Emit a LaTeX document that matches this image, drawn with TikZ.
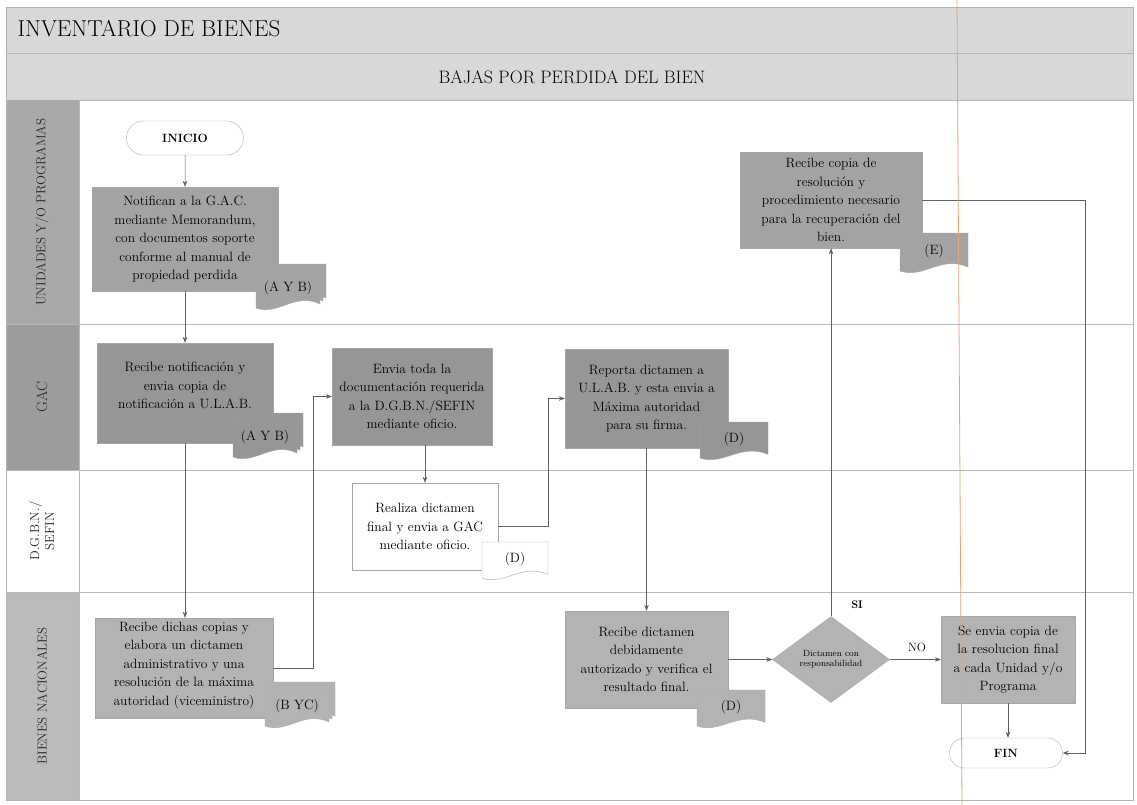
\documentclass[tikz,border=0pt]{standalone}
\usetikzlibrary{shapes.geometric,shapes.misc,arrows.meta}

\definecolor{bandgray}{HTML}{D8D8D8}
\definecolor{boxdark}{HTML}{969696}
\definecolor{boxmid}{HTML}{A3A3A3}
\definecolor{boxlight}{HTML}{B3B3B3}
\definecolor{laneuni}{HTML}{A9A9A9}
\definecolor{lanegac}{HTML}{9C9C9C}
\definecolor{lanebie}{HTML}{BBBBBB}
\definecolor{scanline}{HTML}{E6A477}

\newcommand{\boxfont}{\fontsize{13.5}{18.5}\selectfont}
\newcommand{\liftup}[1]{\\[#1]\mbox{}}

% document symbol: name, x, y, width, height, fill, text
\newcommand{\docbody}[5]{%
  \begin{scope}[shift={(#1,#2)}]
    \filldraw[fill=#5, draw=gray!70] (0,0) -- (#3,0) -- (#3,{0.85*#4})
      .. controls ({0.6*#3},{0.55*#4}) and ({0.35*#3},{1.15*#4}) .. (0,{0.95*#4}) -- cycle;
  \end{scope}}
\newcommand{\docsym}[7]{%
  \docbody{#2}{#3}{#4}{#5}{#6}
  \node[doctext] (#1) at ({#2+0.5*#4},{#3+0.45*#5}) {#7};}
\newcommand{\multidoc}[7]{%
  \docbody{#2+6}{#3-6}{#4}{#5}{#6}
  \docbody{#2+3}{#3-3}{#4}{#5}{#6}
  \docsym{#1}{#2}{#3}{#4}{#5}{#6}{#7}}

\tikzset{
  proc/.style={rectangle, draw=gray!70, align=center, inner sep=1pt, font=\boxfont, text=black},
  term/.style={rounded rectangle, draw=gray!60, fill=white, inner sep=0pt,
    font=\fontsize{12}{14}\selectfont\bfseries, text=black},
  decbox/.style={diamond, draw=gray!70, fill=boxlight, inner sep=0pt, align=center,
    font=\fontsize{9}{10.5}\selectfont, text=black},
  doctext/.style={font=\boxfont, inner sep=0pt, text=black},
  lanelabel/.style={rotate=90, align=center, text=black!85, font=\fontsize{13}{15}\selectfont},
  flow/.style={draw=gray!75!black, line width=0.5pt, ->},
  laneline/.style={draw=gray!55, line width=0.6pt},
  >={Stealth[length=6pt,width=4.5pt]}
}

\begin{document}
\begin{tikzpicture}[x=1pt, y=-1pt]
  \useasboundingbox (0,0) rectangle (1137,805);
  \fill[white] (0,0) rectangle (1137,805);

  % header bands
  \fill[bandgray] (6,7) rectangle (1133,100);
  \draw[laneline] (6,53) -- (1133,53);
  \draw[laneline] (6,100) -- (1133,100);
  \node[anchor=base west, font=\fontsize{23}{26}\selectfont, text=black] (titulo) at (14,37) {INVENTARIO DE BIENES};
  \node[font=\fontsize{18}{20}\selectfont, text=black] (subtitulo) at (572,77) {BAJAS POR PERDIDA DEL BIEN};

  % lane label column
  \fill[laneuni] (6,100) rectangle (79,324);
  \fill[lanegac] (6,324) rectangle (79,470);
  \fill[lanebie] (6,592) rectangle (79,800);
  \draw[laneline] (79,100) -- (79,800);
  \draw[laneline] (6,324) -- (1133,324);
  \draw[laneline] (6,470) -- (1133,470);
  \draw[laneline] (6,592) -- (1133,592);
  \draw[gray!60, line width=0.8pt] (6,7) rectangle (1133,800);

  \node[lanelabel] (unidades) at (42,212) {UNIDADES Y/O PROGRAMAS};
  \node[lanelabel, font=\fontsize{15}{17}\selectfont] (gac) at (42,397) {GAC};
  \node[lanelabel] (dgbn) at (42,531) {D.G.B.N./\\SEFIN};
  \node[lanelabel] (bienes) at (42,696) {BIENES NACIONALES};

  % steps
  \node[term, minimum width=117pt, minimum height=34pt] (inicio) at (185,138) {INICIO};
  \node[proc, fill=boxmid, minimum width=186pt, minimum height=104pt] (notif) at (185,239)
    {Notifican a la G.A.C.\\mediante Memorandum,\\con documentos soporte\\conforme al manual de\\propiedad perdida};
  \node[proc, fill=boxdark, minimum width=176pt, minimum height=100pt] (recnot) at (185,393)
    {Recibe notificación y\\envia copia de\\notificación a U.L.A.B.\liftup{-3pt}};
  \node[proc, fill=boxlight, minimum width=178pt, minimum height=100pt] (dichas) at (184,668)
    {Recibe dichas copias y\\elabora un dictamen\\administrativo y una\\resolución de la máxima\\autoridad (viceministro)\liftup{-10pt}};
  \node[proc, fill=boxdark, minimum width=160pt, minimum height=97pt] (envia) at (412,396.5)
    {Envia toda la\\documentación requerida\\a la D.G.B.N./SEFIN\\mediante oficio.};
  \node[proc, fill=white, minimum width=146pt, minimum height=87pt] (realiza) at (425,526.5)
    {Realiza dictamen\\final y envia a GAC\\mediante oficio.};
  \node[proc, fill=boxdark, minimum width=163pt, minimum height=99pt] (reporta) at (646.5,398.5)
    {Reporta dictamen a\\U.L.A.B. y esta envia a\\Máxima autoridad\\para su firma.};
  \node[proc, fill=boxlight, minimum width=163pt, minimum height=97pt] (dictamen) at (646.5,659.5)
    {Recibe dictamen\\debidamente\\autorizado y verifica el\\resultado final.};
  \node[decbox, minimum width=117pt, minimum height=86pt] (decision) at (831,659.5)
    {Dictamen con\\responsabilidad};
  \node[proc, fill=boxlight, minimum width=134pt, minimum height=87pt] (envio) at (1008,659.5)
    {Se envia copia de\\la resolucion final\\a cada Unidad y/o\\Programa};
  \node[proc, fill=boxmid, minimum width=182pt, minimum height=96pt] (copia) at (831,200)
    {Recibe copia de\\resolución y\\procedimiento necesario\\para la recuperación del\\bien.};
  \node[term, minimum width=113pt, minimum height=30pt] (fin) at (1006,753) {FIN};

  % documents
  \multidoc{docnotif}{256}{270}{64}{40}{boxmid}{(A Y B)}
  \multidoc{docrecnot}{233}{419}{64}{40}{boxdark}{(A Y B)}
  \multidoc{docdichas}{265}{688}{64}{40}{boxlight}{(B YC)}
  \docsym{docrealiza}{482}{542}{66}{38}{white}{(D)}
  \docsym{docreporta}{700}{422}{68}{38}{boxdark}{(D)}
  \docsym{docdictamen}{697}{690}{68}{38}{boxlight}{(D)}
  \docsym{doccopia}{900}{233}{68}{40}{boxmid}{(E)}

  % connectors
  \coordinate (dichasturn) at (313,668);
  \coordinate (realizaturn) at (548,526.5);
  \coordinate (rtcorner) at (1085,200);
  \draw[flow] (inicio) -- (notif);
  \draw[flow] (notif) -- (recnot);
  \draw[flow] (recnot.south) -- (recnot.south |- dichas.north);
  \draw[flow] (dichas.east) -- (dichasturn) |- (envia.west);
  \draw[flow] (realiza.north |- envia.south) -- (realiza.north);
  \draw[flow] (realiza.east) -- (realizaturn) |- (reporta.west);
  \draw[flow] (reporta) -- (dictamen);
  \draw[flow] (dictamen) -- (decision);
  \draw[flow] (decision) -- (copia);
  \draw[flow] (decision) -- (envio);
  \draw[flow] (envio.south) -- (envio.south |- fin.north);
  \draw[flow] (copia.east) -- (rtcorner) |- (fin.east);
  \node[font=\fontsize{11}{13}\selectfont\bfseries, text=black] (si) at (857,605) {SI};
  \node[font=\fontsize{12}{14}\selectfont, text=black] (no) at (917,647) {NO};

  % scan mark
  \draw[scanline, line width=0.8pt] (957,0) -- (962,805);
\end{tikzpicture}
\end{document}
